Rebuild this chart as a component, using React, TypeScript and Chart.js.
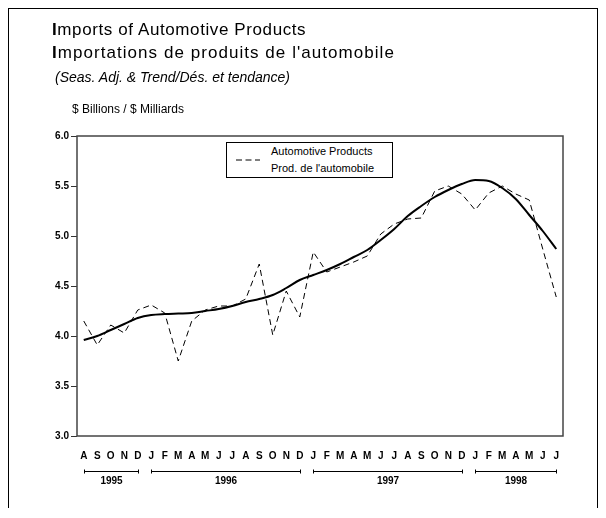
import React, { useEffect, useRef } from "react";
import Chart from "chart.js/auto";

const FONT = "'Liberation Sans', Arial, Helvetica, sans-serif";

const months = [
  "A", "S", "O", "N", "D",
  "J", "F", "M", "A", "M", "J", "J", "A", "S", "O", "N", "D",
  "J", "F", "M", "A", "M", "J", "J", "A", "S", "O", "N", "D",
  "J", "F", "M", "A", "M", "J", "J",
];

const yearLabels = ["1995", "1996", "1997", "1998"];
const yearStart = [0, 5, 17, 29];
const yearEnd = [4, 16, 28, 35];

// Seasonally adjusted series (dashed)
const seasAdj = [
  4.15, 3.91, 4.11, 4.03, 4.26,
  4.31, 4.23, 3.75, 4.15, 4.26, 4.30, 4.30, 4.37, 4.72, 4.01, 4.45, 4.19,
  4.84, 4.64, 4.69, 4.74, 4.80, 5.02, 5.12, 5.17, 5.18, 5.45, 5.50, 5.42,
  5.26, 5.43, 5.50, 5.42, 5.36, 4.87, 4.39,
];

// Trend series (solid)
const trend = [
  3.96, 4.00, 4.06, 4.12, 4.18,
  4.21, 4.22, 4.225, 4.23, 4.25, 4.27, 4.30, 4.34, 4.37, 4.41, 4.48, 4.56,
  4.61, 4.66, 4.72, 4.79, 4.86, 4.96, 5.07, 5.20, 5.30, 5.39, 5.46, 5.52,
  5.56, 5.55, 5.48, 5.37, 5.21, 5.05, 4.87,
];

const yMin = 3.0;
const yMax = 6.0;
const yStep = 0.5;

const yearPlugin = {
  id: "yearsAndFrame",
  afterDraw(chart: any) {
    const { ctx, chartArea, scales } = chart;
    const xs = scales.x;
    ctx.save();
    ctx.strokeStyle = "#444";
    ctx.lineWidth = 1.5;
    ctx.strokeRect(
      chartArea.left,
      chartArea.top,
      chartArea.right - chartArea.left,
      chartArea.bottom - chartArea.top
    );
    const ly = chartArea.bottom + 35;
    ctx.strokeStyle = "#000";
    ctx.lineWidth = 1;
    ctx.fillStyle = "#000";
    ctx.font = `bold 10px ${FONT}`;
    ctx.textAlign = "center";
    ctx.textBaseline = "middle";
    yearLabels.forEach((lab, k) => {
      const x1 = Math.round(xs.getPixelForValue(yearStart[k])) + 0.5;
      const x2 = Math.round(xs.getPixelForValue(yearEnd[k])) + 0.5;
      const y = Math.round(ly) + 0.5;
      ctx.beginPath();
      ctx.moveTo(x1, y);
      ctx.lineTo(x2, y);
      ctx.moveTo(x1, y - 2);
      ctx.lineTo(x1, y + 2);
      ctx.moveTo(x2, y - 2);
      ctx.lineTo(x2, y + 2);
      ctx.stroke();
      ctx.fillText(lab, (x1 + x2) / 2, ly + 10.5);
    });
    ctx.restore();
  },
};

export default function App() {
  const ref = useRef<HTMLCanvasElement | null>(null);

  useEffect(() => {
    if (!ref.current) return;
    const chart = new Chart(ref.current, {
      type: "line",
      data: {
        labels: months,
        datasets: [
          {
            label: "Automotive Products / Prod. de l'automobile",
            data: seasAdj,
            borderColor: "#000",
            borderWidth: 1,
            borderDash: [6, 4],
            pointRadius: 0,
            tension: 0,
            fill: false,
          },
          {
            label: "Trend / Tendance",
            data: trend,
            borderColor: "#000",
            borderWidth: 2,
            pointRadius: 0,
            tension: 0.4,
            cubicInterpolationMode: "monotone",
            fill: false,
          },
        ],
      },
      options: {
        animation: false,
        responsive: false,
        maintainAspectRatio: false,
        layout: { padding: { top: 127, right: 34, bottom: 0, left: 0 } },
        plugins: {
          legend: { display: false },
          tooltip: { enabled: false },
          title: { display: false },
        },
        scales: {
          x: {
            offset: true,
            grid: { display: false, drawTicks: false },
            border: { display: false },
            ticks: {
              color: "#000",
              font: { size: 10, weight: "bold", family: FONT },
              padding: 14,
              autoSkip: false,
              maxRotation: 0,
            },
            afterFit(s: any) {
              s.height = 72;
            },
          },
          y: {
            min: yMin,
            max: yMax,
            grid: {
              drawOnChartArea: false,
              drawTicks: true,
              tickLength: 6,
              color: "#333",
            },
            border: { display: false },
            ticks: {
              stepSize: yStep,
              color: "#000",
              font: { size: 10, weight: "bold", family: FONT },
              padding: 2,
              callback: (v: any) => Number(v).toFixed(1),
            },
            afterFit(s: any) {
              s.width = 68;
            },
          },
        },
      },
      plugins: [yearPlugin],
    } as any);
    return () => chart.destroy();
  }, []);

  return (
    <div
      style={{
        position: "relative",
        width: 590,
        height: 500,
        boxSizing: "border-box",
        borderTop: "1px solid #000",
        borderLeft: "1px solid #000",
        borderRight: "1px solid #000",
        fontFamily: FONT,
        color: "#000",
      }}
    >
      <canvas
        ref={ref}
        width={588}
        height={499}
        style={{ position: "absolute", left: 0, top: 0, width: 588, height: 499 }}
      />
      <div
        style={{
          position: "absolute",
          left: 43,
          top: 11,
          fontSize: 17,
          lineHeight: "20px",
          letterSpacing: 0.6,
          whiteSpace: "nowrap",
        }}
      >
        <span style={{ fontWeight: "bold" }}>I</span>mports of Automotive Products
      </div>
      <div
        style={{
          position: "absolute",
          left: 43,
          top: 34,
          fontSize: 17,
          lineHeight: "20px",
          letterSpacing: 1.05,
          whiteSpace: "nowrap",
        }}
      >
        <span style={{ fontWeight: "bold" }}>I</span>mportations de produits de l'automobile
      </div>
      <div
        style={{
          position: "absolute",
          left: 46,
          top: 60,
          fontSize: 14,
          lineHeight: "16px",
          fontStyle: "italic",
          whiteSpace: "nowrap",
        }}
      >
        (Seas. Adj. &amp; Trend/Dés. et tendance)
      </div>
      <div
        style={{
          position: "absolute",
          left: 63,
          top: 93,
          fontSize: 12,
          lineHeight: "14px",
          whiteSpace: "nowrap",
        }}
      >
        $ Billions / $ Milliards
      </div>
      <div
        style={{
          position: "absolute",
          left: 217,
          top: 133,
          width: 167,
          height: 36,
          boxSizing: "border-box",
          border: "1px solid #000",
          background: "#fff",
        }}
      >
        <svg
          width={26}
          height={4}
          style={{ position: "absolute", left: 9, top: 15 }}
        >
          <line x1={0} y1={2} x2={24} y2={2} stroke="#000" strokeWidth={1} strokeDasharray="6 3.5" />
        </svg>
        <div
          style={{
            position: "absolute",
            left: 44,
            top: 1,
            fontSize: 11,
            lineHeight: "14px",
            whiteSpace: "nowrap",
          }}
        >
          Automotive Products
        </div>
        <div
          style={{
            position: "absolute",
            left: 44,
            top: 18,
            fontSize: 11,
            lineHeight: "14px",
            whiteSpace: "nowrap",
          }}
        >
          Prod. de l'automobile
        </div>
      </div>
    </div>
  );
}
